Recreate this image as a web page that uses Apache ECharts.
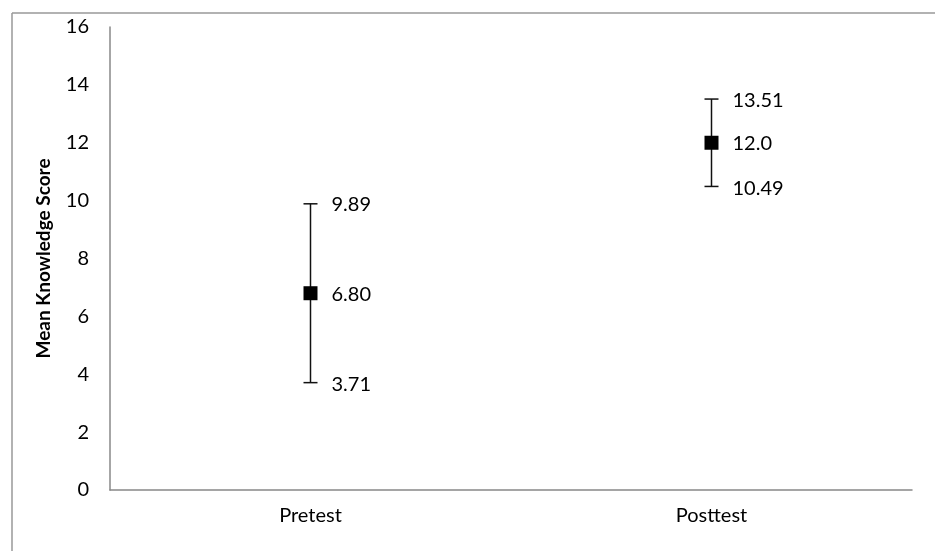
<!DOCTYPE html>
<html><head><meta charset="utf-8">
<script src="https://cdn.jsdelivr.net/npm/echarts@6/dist/echarts.min.js"></script>
<style>html,body{margin:0;padding:0;background:#fff;}#c{width:935px;height:551px;}</style>
</head><body><div id="c"></div>
<script>
const categories = ['Pretest', 'Posttest'];
const means = [6.80, 12.0];
const lower = [3.71, 10.49];
const upper = [9.89, 13.51];
const meanLabels = ['6.80', '12.0'];
const lowerLabels = ['3.71', '10.49'];
const upperLabels = ['9.89', '13.51'];
const yTicks = [0, 2, 4, 6, 8, 10, 12, 14, 16];

const FONT = 'Lato, "Open Sans", sans-serif';
const chart = echarts.init(document.getElementById('c'));

const errData = categories.map((c, i) => [i, lower[i], upper[i], means[i]]);

chart.setOption({
  animation: false,
  graphic: [
    { type: 'line', shape: { x1: 12, y1: 13, x2: 935, y2: 13 }, style: { stroke: '#999', lineWidth: 1.5 } },
    { type: 'line', shape: { x1: 12, y1: 13, x2: 12, y2: 551 }, style: { stroke: '#999', lineWidth: 1.5 } }
  ],
  grid: { left: 110, right: 23, top: 27, bottom: 61 },
  xAxis: {
    type: 'category',
    data: categories,
    axisLine: { lineStyle: { color: '#888', width: 1.5 } },
    axisTick: { show: false },
    axisLabel: { color: '#000', fontSize: 20, fontFamily: FONT, margin: 16 }
  },
  yAxis: {
    type: 'value',
    min: yTicks[0], max: yTicks[yTicks.length - 1], interval: 2,
    name: 'Mean Knowledge Score',
    nameLocation: 'middle',
    nameGap: 57,
    nameTextStyle: { color: '#000', fontSize: 19, fontWeight: 'bold', fontFamily: FONT },
    axisLine: { show: true, lineStyle: { color: '#888', width: 1.5 } },
    axisTick: { show: false },
    splitLine: { show: false },
    axisLabel: { color: '#000', fontSize: 20, fontFamily: FONT, margin: 21 }
  },
  series: [
    {
      type: 'custom',
      data: errData,
      renderItem: function (params, api) {
        const x = api.value(0);
        const lo = api.coord([x, api.value(1)]);
        const hi = api.coord([x, api.value(2)]);
        const mid = api.coord([x, api.value(3)]);
        const cap = 7;
        const i = params.dataIndex;
        const st = { stroke: '#111', lineWidth: 1.5 };
        const ts = { fill: '#000', fontSize: 20, fontFamily: FONT, textVerticalAlign: 'middle', verticalAlign: 'middle' };
        return {
          type: 'group',
          children: [
            { type: 'line', shape: { x1: hi[0], y1: hi[1], x2: lo[0], y2: lo[1] }, style: st },
            { type: 'line', shape: { x1: hi[0] - cap, y1: hi[1], x2: hi[0] + cap, y2: hi[1] }, style: st },
            { type: 'line', shape: { x1: lo[0] - cap, y1: lo[1], x2: lo[0] + cap, y2: lo[1] }, style: st },
            { type: 'rect', shape: { x: mid[0] - 7, y: mid[1] - 7, width: 14, height: 14 }, style: { fill: '#000' } },
            { type: 'text', x: hi[0] + 21, y: hi[1] + 1, style: Object.assign({ text: upperLabels[i] }, ts) },
            { type: 'text', x: mid[0] + 21, y: mid[1] + 1, style: Object.assign({ text: meanLabels[i] }, ts) },
            { type: 'text', x: lo[0] + 21, y: lo[1] + 2, style: Object.assign({ text: lowerLabels[i] }, ts) }
          ]
        };
      }
    }
  ]
});
</script>
</body></html>
